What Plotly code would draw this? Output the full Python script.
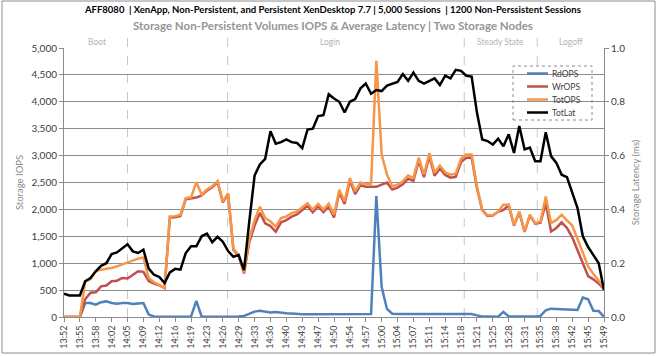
import plotly.graph_objects as go

# ---- data ----
tick_labels = ["13:52", "13:55", "13:58", "14:02", "14:05", "14:09", "14:12", "14:16", "14:19",
               "14:23", "14:26", "14:29", "14:33", "14:36", "14:40", "14:43", "14:47", "14:50",
               "14:54", "14:57", "15:00", "15:04", "15:07", "15:11", "15:14", "15:18", "15:21",
               "15:25", "15:28", "15:31", "15:35", "15:38", "15:42", "15:45", "15:49"]

rd_ops = [0, 0, 0, 0, 260, 260, 230, 275, 290, 260,
          245, 260, 260, 240, 250, 260, 45, 10, 5, 5,
          5, 5, 5, 5, 10, 300, 5, 5, 5, 5,
          5, 5, 5, 10, 20, 60, 100, 115, 100, 85,
          95, 80, 70, 65, 55, 50, 50, 50, 45, 45,
          50, 50, 45, 50, 50, 50, 50, 50, 55, 2250,
          560, 150, 60, 55, 55, 60, 55, 50, 55, 55,
          50, 55, 55, 60, 60, 60, 60, 55, 30, 10,
          10, 5, 5, 95, 10, 10, 10, 10, 5, 10,
          20, 125, 155, 150, 140, 140, 130, 130, 360, 330,
          115, 110, 5]

wr_ops = [0, 0, 0, 0, 330, 450, 460, 570, 585, 665,
          675, 725, 715, 785, 850, 840, 670, 620, 590, 535,
          1850, 1855, 1880, 2190, 2205, 2220, 2260, 2350, 2410, 2505,
          2130, 2280, 1250, 1130, 810, 1390, 1700, 1935, 1740, 1690,
          1585, 1760, 1800, 1865, 1905, 1990, 2065, 1945, 2060, 1950,
          2055, 1850, 2320, 2100, 2535, 2285, 2450, 2420, 2415, 2420,
          2460, 2500, 2370, 2405, 2465, 2570, 2530, 2905, 2600, 2990,
          2625, 2760, 2640, 2590, 2605, 2880, 2960, 2965, 2400, 1985,
          1880, 1885, 1955, 1990, 2075, 1700, 1950, 1580, 1895, 1735,
          1755, 2115, 1590, 1655, 1760, 1655, 1480, 1250, 1000, 760,
          700, 620, 520]

tot_ops = [0, 0, 0, 0, 660, 700, 850, 880, 895, 910,
           940, 975, 1005, 1045, 1085, 1105, 725, 645, 600, 540,
           1870, 1875, 1900, 2210, 2225, 2505, 2275, 2370, 2430, 2525,
           2150, 2300, 1270, 1150, 830, 1450, 1800, 2050, 1840, 1775,
           1680, 1840, 1870, 1930, 1960, 2040, 2115, 1995, 2105, 1995,
           2105, 1900, 2365, 2150, 2585, 2335, 2500, 2470, 2470, 4760,
           3020, 2650, 2430, 2460, 2520, 2630, 2585, 2960, 2650, 3045,
           2680, 2815, 2690, 2645, 2665, 2940, 3020, 3020, 2430, 1995,
           1890, 1890, 1960, 2085, 2085, 1710, 1960, 1590, 1900, 1745,
           1775, 2240, 1745, 1805, 1900, 1795, 1700, 1450, 1200, 940,
           800, 680, 530]

tot_lat = [0.087, 0.08, 0.08, 0.08, 0.133, 0.145, 0.17, 0.19, 0.2, 0.234,
           0.24, 0.255, 0.27, 0.244, 0.238, 0.25, 0.18, 0.157, 0.149, 0.126,
           0.166, 0.179, 0.176, 0.238, 0.263, 0.263, 0.30, 0.31, 0.278, 0.298,
           0.28, 0.245, 0.224, 0.23, 0.174, 0.355, 0.526, 0.567, 0.588, 0.691,
           0.644, 0.65, 0.66, 0.65, 0.647, 0.628, 0.697, 0.70, 0.747, 0.75,
           0.828, 0.812, 0.80, 0.76, 0.80, 0.81, 0.85, 0.868, 0.83, 0.844,
           0.84, 0.86, 0.866, 0.874, 0.903, 0.878, 0.909, 0.878, 0.868, 0.876,
           0.887, 0.862, 0.897, 0.887, 0.919, 0.915, 0.897, 0.894, 0.76, 0.66,
           0.654, 0.641, 0.663, 0.635, 0.679, 0.61, 0.71, 0.623, 0.63, 0.579,
           0.579, 0.687, 0.598, 0.573, 0.529, 0.52, 0.46, 0.405, 0.30, 0.26,
           0.23, 0.2, 0.1]

series_names = ["RdOPS", "WrOPS", "TotOPS", "TotLat"]
series_colors = ["#4f81bd", "#c0504d", "#f79646", "#000000"]

phase_names = ["Boot", "Login", "Steady State", "Logoff"]
phase_label_pos = [6.2, 50.2, 82.4, 95.8]
phase_bounds = [12.0, 30.9, 75.6, 89.4]

x = list(range(len(tot_ops)))
tick_step = (len(x) - 1) // (len(tick_labels) - 1)
tick_vals = x[::tick_step]

FONT = "Lato"
GRID = "#8c8c8c"

# plot-area pixel geometry (for placing the hand-drawn legend box)
W, H = 659, 356
ML, MR, MT, MB = 64, 55, 48, 39
PW, PH = W - ML - MR, H - MT - MB


def px_x(px):
    return (px - ML) / PW


def px_y(py):
    return (H - MB - py) / PH


fig = go.Figure()
for name, color, ys, axis in zip(series_names, series_colors,
                                 [rd_ops, wr_ops, tot_ops, tot_lat],
                                 ["y", "y", "y", "y2"]):
    fig.add_trace(go.Scatter(x=x, y=ys, name=name, mode="lines", yaxis=axis,
                             line=dict(color=color, width=2.5), showlegend=False,
                             hoverinfo="skip"))

shapes = []
for b in phase_bounds:
    shapes.append(dict(type="line", xref="x", yref="paper", x0=b, x1=b, y0=0, y1=px_y(35),
                       line=dict(color="#c8c8c8", width=1, dash="dash"), layer="below"))
# legend dashed frame
shapes.append(dict(type="rect", xref="paper", yref="paper", x0=px_x(513), x1=px_x(592),
                   y0=px_y(120), y1=px_y(66), line=dict(color="#8c8c8c", width=1, dash="dot"),
                   fillcolor="white", layer="below"))
# outer chart border
shapes.append(dict(type="rect", xref="paper", yref="paper", x0=px_x(2), x1=px_x(655),
                   y0=px_y(353), y1=px_y(1), line=dict(color="#8c8c8c", width=1)))

annotations = [
    dict(text="<b>AFF8080  | XenApp, Non-Persistent, and Persistent XenDesktop 7.7 | 5,000 Sessions  | 1200 Non-Perssistent Sessions</b>",
         xref="paper", yref="paper", x=px_x(332), y=px_y(9), showarrow=False,
         font=dict(family=FONT, size=9.5, color="#000000"), xanchor="center", yanchor="middle"),
    dict(text="<b>Storage Non-Persistent Volumes IOPS & Average Latency | Two Storage Nodes</b>",
         xref="paper", yref="paper", x=px_x(333), y=px_y(26), showarrow=False,
         font=dict(family=FONT, size=11.5, color="#959595"), xanchor="center", yanchor="middle"),
]
for name, pos in zip(phase_names, phase_label_pos):
    annotations.append(dict(text=name, xref="x", yref="paper", x=pos, y=px_y(42), showarrow=False,
                            font=dict(family=FONT, size=8.5, color="#b4b4b4"),
                            xanchor="center", yanchor="middle"))

# hand-drawn legend entries
for k, (name, color) in enumerate(zip(series_names, series_colors)):
    ry = 73.5 + 13 * k
    shapes.append(dict(type="line", xref="paper", yref="paper", x0=px_x(527), x1=px_x(548),
                       y0=px_y(ry), y1=px_y(ry), line=dict(color=color, width=2.5)))
    annotations.append(dict(text=name, xref="paper", yref="paper", x=px_x(550), y=px_y(ry),
                            showarrow=False, xanchor="left", yanchor="middle",
                            font=dict(family=FONT, size=8.5, color="#404040")))

fig.update_layout(
    width=W, height=H,
    margin=dict(l=ML, r=MR, t=MT, b=MB, pad=0, autoexpand=False),
    paper_bgcolor="white", plot_bgcolor="white",
    font=dict(family=FONT, color="#404040"),
    showlegend=False,
    hovermode=False,
    xaxis=dict(range=[0, len(x) - 1], tickmode="array", tickvals=tick_vals,
               ticktext=tick_labels, tickangle=-90, showgrid=False, automargin=False,
               showline=True, linecolor=GRID, linewidth=1,
               ticks="outside", ticklen=4, tickcolor=GRID,
               tickfont=dict(family=FONT, size=9, color="#404040"), zeroline=False),
    yaxis=dict(range=[0, 5000], dtick=500, tickformat=",d", showgrid=True, automargin=False,
               gridcolor=GRID, gridwidth=1, showline=True, linecolor=GRID,
               ticks="outside", ticklen=4, tickcolor=GRID, zeroline=False,
               tickfont=dict(family=FONT, size=10, color="#404040"),
               title=dict(text="Storage IOPS", standoff=6,
                          font=dict(family=FONT, size=9.5, color="#8c8c8c"))),
    yaxis2=dict(range=[0, 1.0], dtick=0.2, tickformat=".1f", overlaying="y", side="right",
                showgrid=False, showline=True, linecolor=GRID, ticks="outside", automargin=False,
                ticklen=4, tickcolor=GRID, zeroline=False,
                tickfont=dict(family=FONT, size=10, color="#404040"),
                title=dict(text="Storage Latency (ms)", standoff=8,
                           font=dict(family=FONT, size=9.5, color="#8c8c8c"))),
    shapes=shapes,
    annotations=annotations,
)

fig.write_html("out.html", config={"displayModeBar": False, "staticPlot": True},
               post_script="document.body.style.margin='0';")
